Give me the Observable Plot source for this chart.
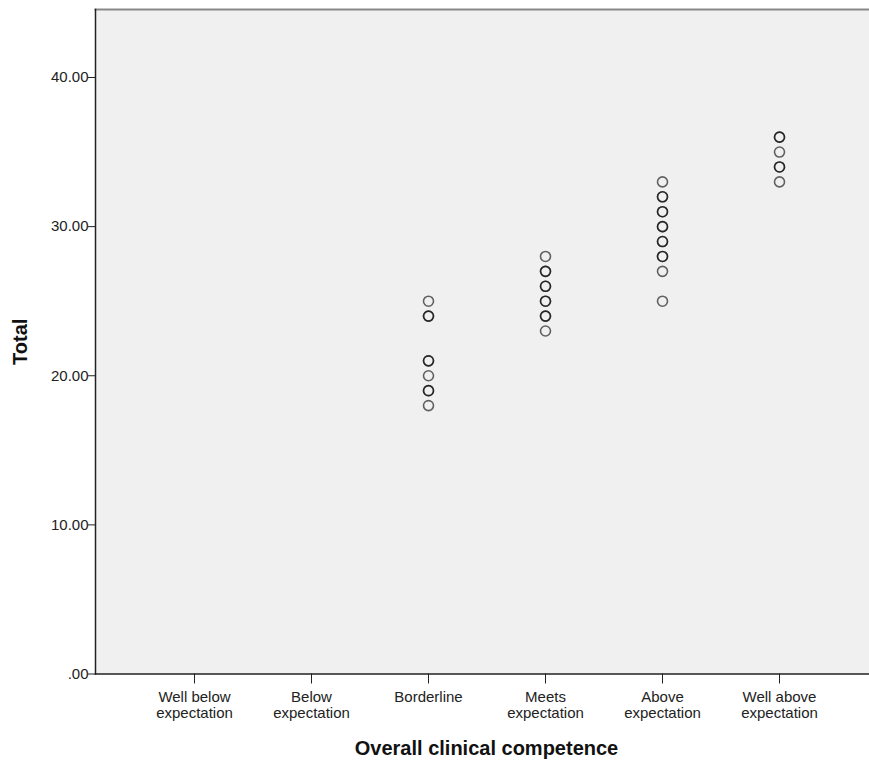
<!DOCTYPE html>
<html>
<head>
<meta charset="utf-8">
<script src="https://cdn.jsdelivr.net/npm/d3@7"></script>
<script src="https://cdn.jsdelivr.net/npm/@observablehq/plot@0.6"></script>
<style>
  html, body { margin: 0; padding: 0; background: #fff; }
</style>
</head>
<body>
<div id="chart"></div>
<script>
const categories = ["Well below expectation", "Below expectation", "Borderline", "Meets expectation", "Above expectation", "Well above expectation"];
const tickLabels = ["Well below\nexpectation", "Below\nexpectation", "Borderline", "Meets\nexpectation", "Above\nexpectation", "Well above\nexpectation"];
const borderlineTotals = [25, 24, 24, 21, 21, 20, 19, 19, 18];
const meetsTotals = [28, 27, 27, 26, 26, 25, 25, 24, 24, 23];
const aboveTotals = [33, 32, 32, 31, 31, 30, 30, 29, 29, 28, 28, 27, 25];
const wellAboveTotals = [36, 36, 35, 34, 34, 33];
const yTicks = [0, 10, 20, 30, 40];
const yMax = 44.56;

const data = [
  ...borderlineTotals.map(v => ({cat: "Borderline", total: v})),
  ...meetsTotals.map(v => ({cat: "Meets expectation", total: v})),
  ...aboveTotals.map(v => ({cat: "Above expectation", total: v})),
  ...wellAboveTotals.map(v => ({cat: "Well above expectation", total: v}))
];

const chart = Plot.plot({
  width: 869,
  height: 762,
  marginLeft: 95,
  marginRight: 0,
  marginTop: 9,
  marginBottom: 88.5,
  style: {fontFamily: "'Liberation Sans', Arial, sans-serif", fontSize: "15px", background: "#fff", color: "#222"},
  x: {type: "point", domain: categories, range: [193, 780], padding: 0, label: null},
  y: {domain: [0, yMax], label: null},
  marks: [
    Plot.frame({fill: "#f0f0f0", stroke: null}),
    Plot.frame({anchor: "top", stroke: "#888", strokeWidth: 2}),
    Plot.dot(data, {x: "cat", y: "total", r: 5, stroke: "#000", strokeOpacity: 0.6, strokeWidth: 1.6, fill: "none"}),
    Plot.axisY({ticks: yTicks, tickFormat: d => d === 0 ? ".00" : d.toFixed(2), tickSize: 7, tickPadding: 0, label: null, fontSize: 15, stroke: "#222"}),
    Plot.axisX({tickSize: 10, tickPadding: 7, tickFormat: d => tickLabels[categories.indexOf(d)], label: null, fontSize: 15, lineHeight: 1.05, stroke: "#222"}),
    Plot.frame({anchor: "left", stroke: "#222", strokeWidth: 1.5}),
    Plot.frame({anchor: "bottom", stroke: "#222", strokeWidth: 1.5}),
    Plot.text(["Overall clinical competence"], {frameAnchor: "bottom", textAnchor: "middle", lineAnchor: "middle", dx: 4, dy: 75, fontWeight: "bold", fontSize: 20, fill: "#111", ariaLabel: "xtitle"}),
    Plot.text(["Total"], {frameAnchor: "left", textAnchor: "middle", lineAnchor: "middle", dx: -75, rotate: -90, fontWeight: "bold", fontSize: 20, fill: "#111", ariaLabel: "ytitle"})
  ]
});
d3.select(chart).selectAll('g[aria-label="xtitle"] text, g[aria-label="ytitle"] text').style("letter-spacing", "1.5px");
document.getElementById("chart").appendChild(chart);
</script>
</body>
</html>
